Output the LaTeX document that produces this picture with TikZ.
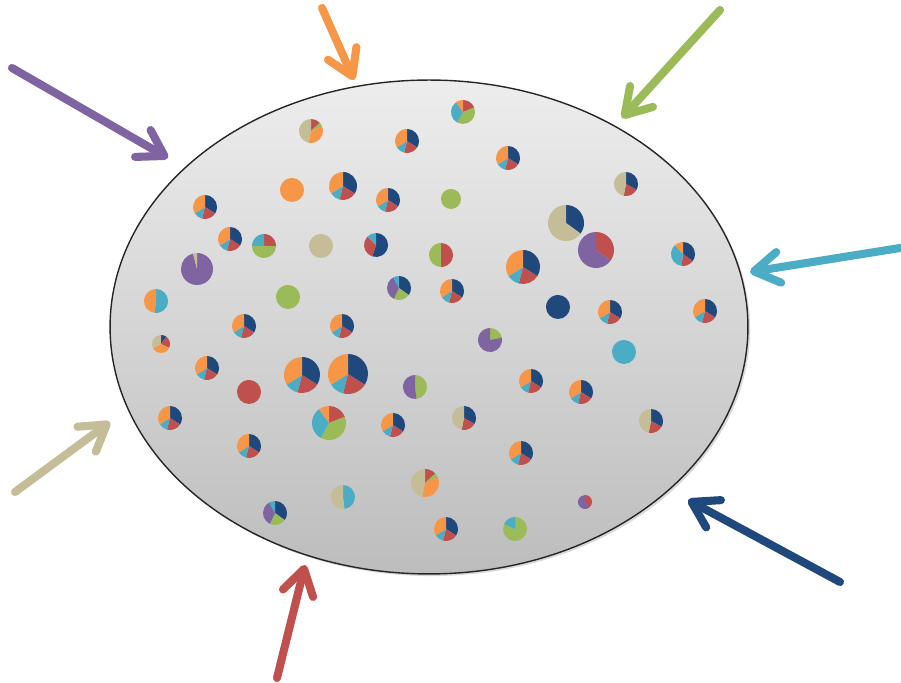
\documentclass[tikz,border=0pt]{standalone}
\usetikzlibrary{arrows.meta,shapes.geometric,shadows}

\definecolor{piepurple}{HTML}{8064A2}
\definecolor{pieorange}{HTML}{F79646}
\definecolor{piegreen}{HTML}{9BBB59}
\definecolor{piecyan}{HTML}{4BACC6}
\definecolor{pietan}{HTML}{C4BD97}
\definecolor{piered}{HTML}{C0504D}
\definecolor{pieblue}{HTML}{1F497D}

\tikzset{
    pie slice/.style={
        line join=round
    }
}

% Kreisdiagramm: Mittelpunkt, Radius, Liste Anteil/Farbe (im Uhrzeigersinn ab 12 Uhr)
\newcommand{\piechart}[3]{%
    \edef\pielist{#3}%
    \xdef\pieangle{90}%
    \foreach \share/\hue in \pielist {
        \pgfmathsetmacro\pieend{\pieangle-3.6*\share}
        \fill[pie slice, fill=\hue] (#1) -- ++(\pieangle:#2)
            arc[start angle=\pieangle, end angle=\pieend, radius=#2] -- cycle;
        \global\let\pieangle\pieend
    }%
}

% Aufteilungen der Kreisdiagramme
\def\pieStd{34/pieblue,20/piered,12/piecyan,34/pieorange}
\def\pieTanBlue{33/pieblue,20/piered,47/pietan}
\def\pieRGCO{19/piered,39/piegreen,32/piecyan,10/pieorange}
\def\pieTanMix{13/piered,5/piegreen,35/pieorange,47/pietan}
\def\pieRGC{25/piered,50/piegreen,25/piecyan}
\def\pieBRC{55/pieblue,32/piered,13/piecyan}
\def\pieRG{50/piered,50/piegreen}
\def\pieBT{35/pieblue,65/pietan}
\def\pieRP{35/piered,65/piepurple}
\def\pieBRCO{35/pieblue,17/piered,36/piecyan,12/pieorange}
\def\piePT{96/piepurple,4/pietan}
\def\pieCO{52/piecyan,48/pieorange}
\def\pieBGPC{35/pieblue,22/piegreen,35/piepurple,8/piecyan}
\def\pieBROT{10/pieblue,22/piered,35/pieorange,33/pietan}
\def\pieGP{22/piegreen,78/piepurple}
\def\pieGPh{48/piegreen,52/piepurple}
\def\pieCT{48/piecyan,52/pietan}
\def\pieRPs{40/piered,60/piepurple}
\def\pieGC{82/piegreen,18/piecyan}
\def\pieOrange{100/pieorange}
\def\pieGreen{100/piegreen}
\def\pieTan{100/pietan}
\def\pieBlue{100/pieblue}
\def\pieCyan{100/piecyan}
\def\pieRed{100/piered}

\begin{document}
\begin{tikzpicture}[
    x=0.02cm, y=0.02cm,
    pool/.style={
        ellipse,
        draw=black!85,
        line width=0.8pt,
        minimum width=12.76cm,
        minimum height=9.88cm,
        inner sep=0pt,
        top color=black!7,
        bottom color=black!26,
        drop shadow={shadow xshift=1.2pt, shadow yshift=-1.2pt, opacity=0.3}
    },
    pool arrow/.style={
        line width=4.6pt,
        line cap=round,
        -{Straight Barb[round, length=0.5cm, width=0.62cm]}
    }
]
    \useasboundingbox (0,0) rectangle (901,682);

    % Die grosse Menge
    \node[pool] (pool) at (429,355) {};

    % Kreisdiagramme in der Menge
    \foreach \px/\py/\pr/\slices in {
        463/570/12/\pieRGCO, 311/551/12/\pieTanMix, 407/541/12/\pieStd,
        508/524/12/\pieStd, 626/498/12/\pieTanBlue, 205/475/12/\pieStd,
        292/492/12/\pieOrange, 343/496/14/\pieStd, 388/482/12/\pieStd,
        451/483/10/\pieGreen, 230/443/12/\pieStd, 264/436/12/\pieRGC,
        321/436/12/\pieTan, 376/437/12/\pieBRC, 441/427/12/\pieRG,
        523/415/17/\pieStd, 566/459/18/\pieBT, 596/432/18/\pieRP,
        683/428/12/\pieBRCO, 197/413/16/\piePT, 156/381/12/\pieCO,
        288/385/12/\pieGreen, 399/394/12/\pieBGPC, 452/391/12/\pieStd,
        558/375/12/\pieBlue, 610/370/12/\pieStd, 705/371/12/\pieStd,
        244/356/12/\pieStd, 342/356/12/\pieStd, 161/338/9/\pieBROT,
        490/342/12/\pieGP, 624/330/12/\pieCyan, 207/314/12/\pieStd,
        302/307/18/\pieStd, 348/308/20/\pieStd, 249/290/12/\pieRed,
        415/295/12/\pieGPh, 531/301/12/\pieStd, 581/290/12/\pieStd,
        170/264/12/\pieStd, 329/259/17/\pieRGCO, 393/257/12/\pieStd,
        464/264/12/\pieTanBlue, 651/261/12/\pieTanBlue, 249/236/12/\pieStd,
        521/229/12/\pieStd, 425/199/14/\pieTanMix, 343/185/12/\pieCT,
        585/180/7/\pieRPs, 275/169/12/\pieBGPC, 446/153/12/\pieStd,
        515/153/12/\pieGC} {
        \piechart{\px,\py}{\pr}{\slices}
    }

    % Pfeile von aussen auf die Menge
    \foreach \src/\hue/\sx/\sy/\tx/\ty in {
        purple/piepurple/12/614/168/524,
        orange/pieorange/322/674/354/602,
        green/piegreen/720/672/622/564,
        cyan/piecyan/900/434/750/410,
        blue/pieblue/840/100/688/182,
        red/piered/277/4/305/117,
        tan/pietan/15/190/110/260} {
        \coordinate (\src from) at (\sx,\sy);
        \coordinate (\src to) at (\tx,\ty);
        \draw[pool arrow, draw=\hue] (\src from) -- (\src to);
    }
\end{tikzpicture}
\end{document}
